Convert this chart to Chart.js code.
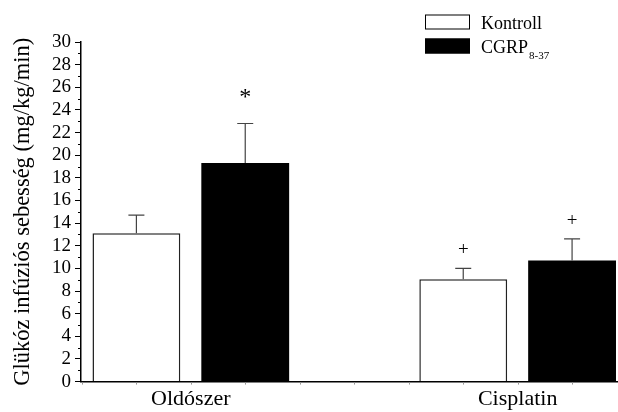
<!DOCTYPE html>
<html>
<head>
<meta charset="utf-8">
<script src="https://cdn.jsdelivr.net/npm/chart.js@4/dist/chart.umd.min.js"></script>
<style>
  html, body { margin: 0; padding: 0; background: #fff; }
  #wrap { width: 618px; height: 412px; position: relative; }
</style>
</head>
<body>
<div id="wrap"><canvas id="c" width="618" height="412"></canvas></div>
<script>
// ---- data ----
const categories = ['Oldószer', 'Cisplatin'];
const seriesNames = ['Kontroll', 'CGRP'];
const seriesSubscripts = ['', '8-37'];
const kontrollValues = [13.1, 9.05];
const kontrollErrors = [1.6, 0.95];
const kontrollMarks = ['', '+'];
const cgrpValues = [19.3, 10.7];
const cgrpErrors = [3.5, 1.9];
const cgrpMarks = ['*', '+'];
const yTickValues = [0, 2, 4, 6, 8, 10, 12, 14, 16, 18, 20, 22, 24, 26, 28, 30];
const yTitle = 'Glükóz infúziós sebesség (mg/kg/min)';

const SERIF = '"Liberation Serif", "Times New Roman", serif';

const toPoints = (vals) => vals.map((v, i) => ({ x: i + 1, y: v }));

const errorPlugin = {
  id: 'errs',
  afterDatasetsDraw(chart) {
    const ctx = chart.ctx;
    const ys = chart.scales.y;
    chart.data.datasets.forEach((ds, di) => {
      const meta = chart.getDatasetMeta(di);
      meta.data.forEach((bar, i) => {
        const top = ys.getPixelForValue(ds.data[i].y + ds.errors[i]);
        const base = ys.getPixelForValue(ds.data[i].y);
        ctx.save();
        ctx.strokeStyle = '#444';
        ctx.lineWidth = 1.2;
        ctx.beginPath();
        ctx.moveTo(bar.x, base);
        ctx.lineTo(bar.x, top);
        ctx.moveTo(bar.x - 8, top);
        ctx.lineTo(bar.x + 8, top);
        ctx.stroke();
        const m = ds.marks[i];
        if (m) {
          ctx.fillStyle = '#000';
          ctx.textAlign = 'center';
          ctx.textBaseline = 'middle';
          if (m === '*') {
            ctx.font = '24px ' + SERIF;
            ctx.fillText(m, bar.x, top - 26);
          } else {
            ctx.font = '19px ' + SERIF;
            ctx.fillText(m, bar.x, top - 18);
          }
        }
        ctx.restore();
      });
    });
  },
  afterDraw(chart) {
    const ctx = chart.ctx;
    const ys = chart.scales.y, xs = chart.scales.x;
    const area = chart.chartArea;
    ctx.save();
    // minor y ticks
    ctx.strokeStyle = '#000';
    ctx.lineWidth = 1;
    ctx.beginPath();
    for (let v = ys.min + 1; v < ys.max; v += 2) {
      const y = Math.round(ys.getPixelForValue(v)) + 0.5;
      ctx.moveTo(area.left - 3, y);
      ctx.lineTo(area.left, y);
    }
    ctx.stroke();
    // tiny x ticks
    ctx.strokeStyle = '#999';
    ctx.beginPath();
    for (let k = 0; k < 12; k++) {
      const v = 1 + (k - 2) / 6;
      if (v < xs.min || v > xs.max) continue;
      const x = Math.round(xs.getPixelForValue(v)) + 0.5;
      ctx.moveTo(x, area.bottom + 1);
      ctx.lineTo(x, area.bottom + 3);
    }
    ctx.stroke();
    // legend
    const boxX = 425, boxW = 45, boxH = 15;
    const rows = [14.5, 38.5];
    chart.data.datasets.forEach((ds, di) => {
      const y = rows[di];
      ctx.fillStyle = ds.backgroundColor;
      ctx.fillRect(boxX, y, boxW, boxH);
      ctx.strokeStyle = '#000';
      ctx.lineWidth = 1;
      ctx.strokeRect(boxX + 0.5, y + 0.5, boxW - 1, boxH - 1);
      ctx.fillStyle = '#000';
      ctx.textAlign = 'left';
      ctx.textBaseline = 'alphabetic';
      ctx.font = '18px ' + SERIF;
      ctx.fillText(seriesNames[di], 481, y + 14);
      if (seriesSubscripts[di]) {
        const w = ctx.measureText(seriesNames[di]).width;
        ctx.font = '11px ' + SERIF;
        ctx.fillText(seriesSubscripts[di], 481 + w + 1, y + 20);
      }
    });
    ctx.restore();
  }
};

new Chart(document.getElementById('c'), {
  type: 'bar',
  data: {
    datasets: [
      {
        label: seriesNames[0],
        data: toPoints(kontrollValues),
        errors: kontrollErrors,
        marks: kontrollMarks,
        backgroundColor: '#ffffff',
        borderColor: '#222',
        borderWidth: 1.5,
        barPercentage: 0.807,
        categoryPercentage: 0.666
      },
      {
        label: seriesNames[1],
        data: toPoints(cgrpValues),
        errors: cgrpErrors,
        marks: cgrpMarks,
        backgroundColor: '#000000',
        borderColor: '#000',
        borderWidth: 0,
        barPercentage: 0.807,
        categoryPercentage: 0.666
      }
    ]
  },
  options: {
    responsive: false,
    animation: false,
    devicePixelRatio: 1,
    layout: { padding: { top: 42, right: 0, bottom: -4, left: 10 } },
    plugins: { legend: { display: false }, tooltip: { enabled: false } },
    scales: {
      x: {
        type: 'linear',
        min: 0.664,
        max: 2.307,
        offset: false,
        afterBuildTicks: (s) => { s.ticks = categories.map((c, i) => ({ value: i + 1 })); },
        ticks: {
          autoSkip: false,
          maxRotation: 0,
          padding: 4,
          color: '#000',
          font: { family: SERIF, size: 22 },
          callback: (v) => categories[Math.round(v) - 1]
        },
        grid: { display: false, drawTicks: false },
        border: { display: true, color: '#000', width: 1.5 }
      },
      y: {
        min: 0,
        max: 30,
        afterBuildTicks: (s) => { s.ticks = yTickValues.map(v => ({ value: v })); },
        ticks: {
          autoSkip: false,
          color: '#000',
          padding: 4,
          font: { family: SERIF, size: 19 }
        },
        grid: { drawOnChartArea: false, drawTicks: true, tickLength: 6, tickColor: '#000', tickWidth: 1 },
        border: { display: true, color: '#000', width: 1.5 },
        title: {
          display: true,
          text: yTitle,
          color: '#000',
          font: { family: SERIF, size: 22.5 },
          padding: { top: 0, bottom: 11 }
        }
      }
    }
  },
  plugins: [errorPlugin]
});
</script>
</body>
</html>
